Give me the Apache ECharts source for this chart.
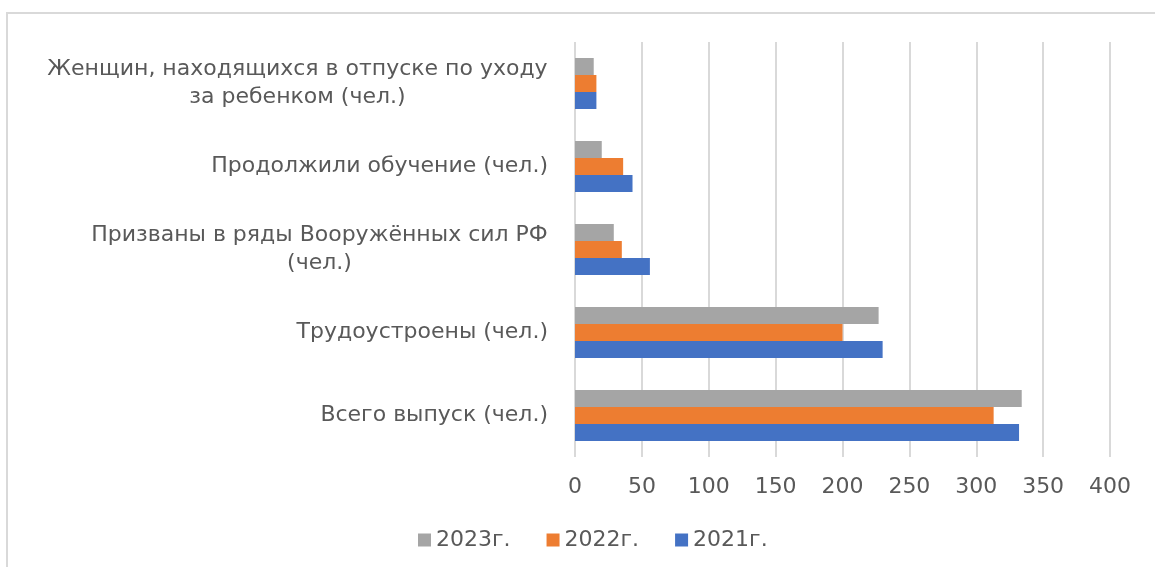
<!DOCTYPE html>
<html>
<head>
<meta charset="utf-8">
<script src="https://cdn.jsdelivr.net/npm/echarts@6/dist/echarts.min.js"></script>
<style>
  html, body { margin: 0; padding: 0; background: #fff; }
  #chart { width: 1155px; height: 567px; }
</style>
</head>
<body>
<div id="chart"></div>
<script>
// категории снизу вверх
const categories = [
  "Всего выпуск (чел.)",
  "Трудоустроены (чел.)",
  "Призваны в ряды Вооружённых сил РФ\n(чел.)",
  "Продолжили обучение (чел.)",
  "Женщин, находящихся в отпуске по уходу\nза ребенком (чел.)"
];
const v2021 = [332, 230, 56, 43, 16];
const v2022 = [313, 200, 35, 36, 16];
const v2023 = [334, 227, 29, 20, 14];
const xTicks = [0, 400, 50]; // min, max, interval

const FONT = "DejaVu Sans";
const FS = 22;
const TXT = "#595959";

// многострочные подписи: строки по центру блока, блок прижат вправо
const ctx = document.createElement("canvas").getContext("2d");
ctx.font = FS + "px '" + FONT + "'";
const rich = {};
categories.forEach((c, i) => {
  const w = Math.max(...c.split("\n").map(s => ctx.measureText(s).width));
  rich["c" + i] = { width: Math.ceil(w), align: "center", fontFamily: FONT, fontSize: FS, color: TXT, lineHeight: 28 };
});

let myChart = echarts.init(document.getElementById("chart"));
myChart.setOption({
  animation: false,
  textStyle: { fontFamily: FONT },
  graphic: [{
    type: "rect",
    shape: { x: 7, y: 13, width: 1300, height: 700 },
    style: { fill: "none", stroke: "#d9d9d9", lineWidth: 2 }
  }],
  grid: { left: 575, right: 45, top: 42, bottom: 110 },
  legend: {
    data: ["2023г.", "2022г.", "2021г."],
    left: 413,
    top: 524,
    icon: "rect",
    itemWidth: 13,
    itemHeight: 13,
    itemGap: 36,
    textStyle: { fontFamily: FONT, fontSize: FS, color: TXT }
  },
  xAxis: {
    type: "value",
    min: xTicks[0],
    max: xTicks[1],
    interval: xTicks[2],
    axisLine: { show: false },
    axisTick: { show: false },
    axisLabel: { fontFamily: FONT, fontSize: FS, color: TXT, margin: 19 },
    splitLine: { lineStyle: { color: "#d9d9d9", width: 2 } }
  },
  yAxis: {
    type: "category",
    data: categories,
    axisLine: { show: false },
    axisTick: { show: false },
    axisLabel: {
      margin: 27,
      fontFamily: FONT, fontSize: FS, color: TXT, lineHeight: 28,
      formatter: (val, idx) => {
        if (val.indexOf("\n") < 0) return val;
        return val.split("\n").map(s => "{c" + idx + "|" + s + "}").join("\n");
      },
      rich: rich
    }
  },
  // в ECharts первая серия рисуется сверху в полосе категории
  series: [
    { name: "2023г.", type: "bar", data: v2023, barWidth: 17, barGap: "0%", itemStyle: { color: "#a5a5a5" } },
    { name: "2022г.", type: "bar", data: v2022, barWidth: 17, barGap: "0%", itemStyle: { color: "#ed7d31" } },
    { name: "2021г.", type: "bar", data: v2021, barWidth: 17, barGap: "0%", itemStyle: { color: "#4472c4" } }
  ]
});
</script>
</body>
</html>
